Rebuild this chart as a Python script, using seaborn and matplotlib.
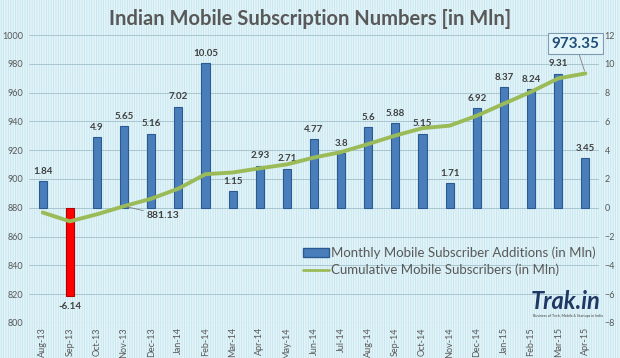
import numpy as np
import pandas as pd
import matplotlib
matplotlib.use("Agg")
import matplotlib.pyplot as plt
from matplotlib.patches import Rectangle, Patch
from matplotlib.lines import Line2D
import seaborn as sns

# chart data
months = ['Aug-13', 'Sep-13', 'Oct-13', 'Nov-13', 'Dec-13', 'Jan-14', 'Feb-14',
          'Mar-14', 'Apr-14', 'May-14', 'Jun-14', 'Jul-14', 'Aug-14', 'Sep-14',
          'Oct-14', 'Nov-14', 'Dec-14', 'Jan-15', 'Feb-15', 'Mar-15', 'Apr-15']
monthly_adds = [1.84, -6.14, 4.9, 5.65, 5.16, 7.02, 10.05, 1.15, 2.93, 2.71, 4.77,
                3.8, 5.6, 5.88, 5.15, 1.71, 6.92, 8.37, 8.24, 9.31, 3.45]
cumulative = [876.72, 870.58, 875.48, 881.13, 886.29, 893.31, 903.36, 904.51,
              907.44, 910.15, 914.92, 918.72, 924.32, 930.20, 935.35, 937.06,
              943.98, 952.35, 960.59, 969.90, 973.35]
left_ticks = [800, 820, 840, 860, 880, 900, 920, 940, 960, 980, 1000]
right_ticks = [-8, -6, -4, -2, 0, 2, 4, 6, 8, 10, 12]

df = pd.DataFrame({'month': months, 'adds': monthly_adds, 'cum': cumulative})

sns.set_style("white")
plt.rcParams['font.family'] = ['Lato', 'DejaVu Sans']
plt.rcParams['hatch.linewidth'] = 0.6
plt.rcParams['hatch.color'] = '#c4e4ee'

bg = '#e4f5f9'
txt = '#595959'

fig = plt.figure(figsize=(6.2, 3.58), dpi=100, facecolor=bg)
# striped background like the original
fig.patches.append(Rectangle((0, 0), 1, 1, transform=fig.transFigure,
                             facecolor=bg, edgecolor='#c4e4ee', hatch='|' * 7,
                             lw=0, zorder=-10))

ax = fig.add_axes([0.047, 0.098, 0.919, 0.804])
ax.set_facecolor('none')

bar_colors = ['#ff0000' if v < 0 else '#4a7ebb' for v in monthly_adds]
edge_colors = ['#b00000' if v < 0 else '#2a5a92' for v in monthly_adds]
sns.barplot(data=df, x='month', y='adds', hue='month', palette=bar_colors,
            legend=False, width=0.3, ax=ax, saturation=1)
for p, ec in zip(ax.patches, edge_colors):
    p.set_edgecolor(ec)
    p.set_linewidth(0.8)

ax2 = ax.twinx()

ax.set_ylim(-8, 12)
ax.set_xlim(-0.5, len(months) - 0.5)
ax.set_yticks(right_ticks)
ax.yaxis.tick_right()
ax.grid(axis='y', color='#a9c6d0', lw=0.7)
ax.set_axisbelow(True)
ax.set_xlabel('')
ax.set_ylabel('')
ax.tick_params(axis='y', labelsize=6.5, labelcolor=txt, length=0, pad=4)
ax.tick_params(axis='x', labelsize=6.5, labelcolor=txt, length=0, rotation=90, pad=3)
for s in ax.spines.values():
    s.set_visible(False)
ax.axhline(-8, color='#b8cfd6', lw=0.8)

for i, v in enumerate(monthly_adds):
    if v >= 0:
        ax.annotate(f'{v:g}', (i, v), xytext=(0, 4), textcoords='offset points',
                    ha='center', va='bottom', fontsize=7, fontweight='bold', color='#404040')
    else:
        ax.annotate(f'{v:g}', (i, v), xytext=(0, -4), textcoords='offset points',
                    ha='center', va='top', fontsize=7, fontweight='bold', color='#404040')

sns.lineplot(x=np.arange(len(months)), y=cumulative, ax=ax2, color='#9bbb59', lw=2.8)
ax2.set_ylim(800, 1000)
ax2.set_yticks(left_ticks)
ax2.yaxis.tick_left()
ax2.set_ylabel('')
ax2.tick_params(axis='y', labelsize=6.5, labelcolor=txt, length=0, pad=4)
for s in ax2.spines.values():
    s.set_visible(False)

ax2.annotate('881.13', (3, 881.13), xytext=(28, -6.5), textcoords='offset points',
             ha='center', va='center', fontsize=7.5, fontweight='bold', color='#404040',
             arrowprops=dict(arrowstyle='-', color='#7f7f7f', lw=0.6, shrinkA=0, shrinkB=2))
ax2.annotate('973.35', (20, 973.35), xytext=(-7, 21.5), textcoords='offset points',
             ha='center', va='center', fontsize=11, fontweight='bold', color='#1f4e79',
             bbox=dict(boxstyle='square,pad=0.25', fc=bg, ec='#7f9bb3', lw=0.8),
             arrowprops=dict(arrowstyle='-', color='#7f7f7f', lw=0.6, shrinkA=0, shrinkB=2))

fig.suptitle('Indian Mobile Subscription Numbers [in Mln]', y=0.975,
             fontsize=14.5, fontweight='bold', color=txt)

handles = [Patch(facecolor='#4a7ebb', edgecolor='#2a5a92'),
           Line2D([0], [0], color='#9bbb59', lw=2)]
fig.legend(handles, ['Monthly Mobile Subscriber Additions (in Mln)',
                     'Cumulative Mobile Subscribers (in Mln)'],
           loc='upper left', bbox_to_anchor=(0.478, 0.33), frameon=False,
           fontsize=9.5, labelcolor=txt, handlelength=2.0, handletextpad=0.1,
           labelspacing=0.35, borderpad=0)

fig.text(0.856, 0.125, 'Trak.in', fontsize=17, fontweight='bold', style='italic',
         color='#1f3864', ha='left', va='bottom')
fig.text(0.86, 0.112, 'Business of Tech, Mobile & Startups in India', fontsize=2.6,
         color='#404040', ha='left', va='bottom')

fig.savefig('out.png', dpi=100, facecolor=bg)
